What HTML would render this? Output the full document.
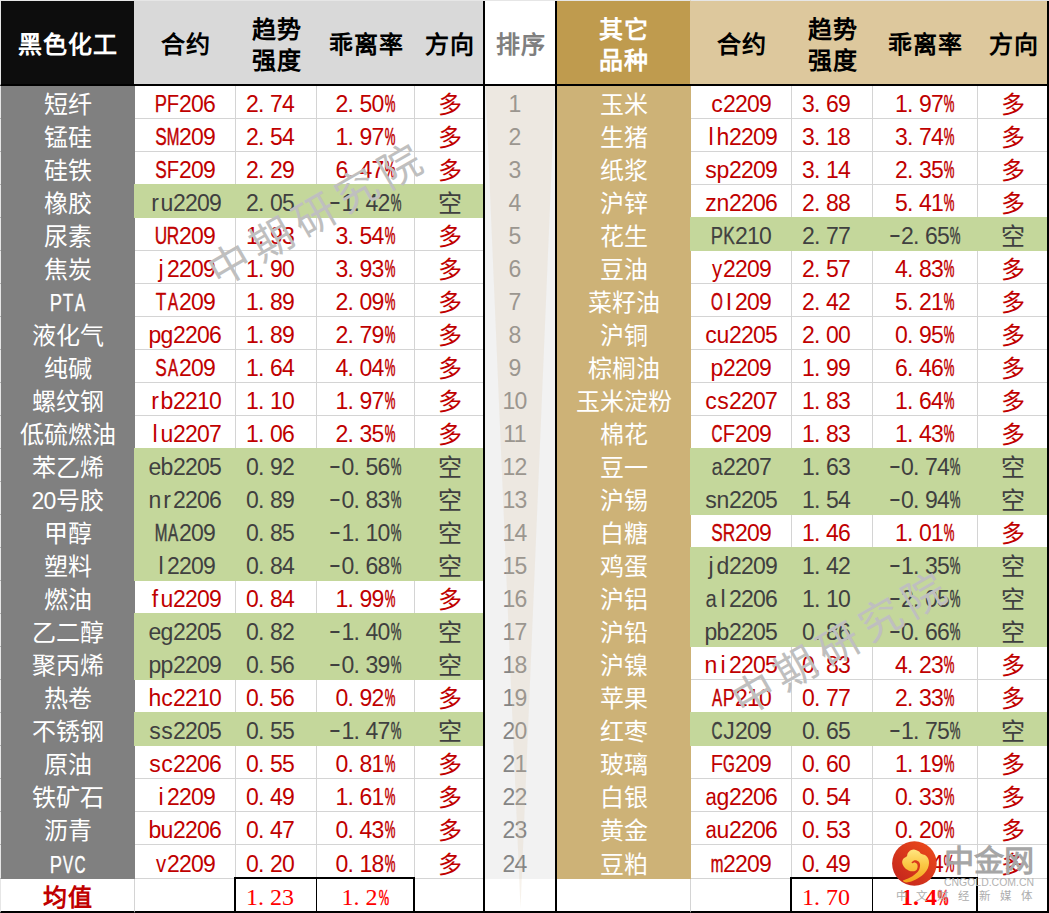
<!DOCTYPE html>
<html lang="zh-CN">
<head>
<meta charset="utf-8">
<title>趋势强度排序</title>
<style>
html,body{margin:0;padding:0;background:#fff;}
body{width:1049px;height:913px;position:relative;overflow:hidden;font-family:"Liberation Sans",sans-serif;}
table{position:absolute;left:0;top:0;width:1049px;border-collapse:separate;border-spacing:0;table-layout:fixed;}
td,th{padding:0;margin:0;text-align:center;white-space:nowrap;overflow:hidden;box-sizing:border-box;font-weight:normal;}
/* header */
thead th{height:86px;font-family:"Liberation Sans",sans-serif;font-weight:bold;font-size:24px;line-height:31px;letter-spacing:1px;color:#000;background:#d9d9d9;padding-top:4px;border-bottom:2px solid #000;border-top:1px solid #e6e6e6;}
thead th.h1{background:#0d0d0d;color:#fff;border-left:1px solid #e6e6e6;border-right:1px solid #d9d9d9;}
thead th.hr{background:#fff;color:#7f7f7f;}
thead th.h2{background:#bf9b4e;color:#fff;border-right:1px solid #ddc89d;}
thead th.t{background:#ddc89d;}
/* body */
tbody td{height:33px;font-size:23px;line-height:28px;letter-spacing:-0.79px;padding-top:4px;border-right:1px solid #d4d4d4;border-bottom:1px solid #d4d4d4;}
tbody td.n1{background:#808080;color:#fff;border-color:#808080;border-left:1px solid #e6e6e6;font-size:24px;letter-spacing:0;padding-top:5px;line-height:27px;}
tbody td.n2{background:#cdb277;color:#fff;border-color:#cdb277;font-size:24px;letter-spacing:0;padding-top:5px;line-height:27px;}
tbody td.rk{background:#f2f2f2;color:#858585;border-color:#f2f2f2;}
tbody td.up{color:#c00000;}
tbody td.dn{color:#404040;background:#c4d79b;border-color:#c4d79b;box-shadow:0 -1px 0 #c4d79b,-1px 0 0 #c4d79b,-1px -1px 0 #c4d79b;position:relative;}
td.ts{padding-right:12px;}
tbody td.d{font-size:24px;letter-spacing:0;padding-top:5px;line-height:27px;}
.a{font-size:23px;letter-spacing:-0.79px;line-height:1;}
u{display:inline-flex;justify-content:center;width:12px;text-decoration:none;letter-spacing:0;line-height:1;}
u.s9{transform:scaleX(.88);}
u.s8{transform:scaleX(.8);-webkit-text-stroke:.25px;}
u.s7{transform:scaleX(.75);-webkit-text-stroke:.35px;}
u.s6{transform:scaleX(.66);-webkit-text-stroke:.5px;}
u.s5{transform:scaleX(.52);-webkit-text-stroke:.6px;}
u.sm{transform:translateY(-2px) scaleX(1.6);}
u.dt{justify-content:flex-start;}
/* mean row */
tfoot td{height:34px;font-family:"Liberation Serif",serif;font-size:24px;line-height:28px;color:#f00;border-right:1px solid #d4d4d4;border-bottom:2px solid #000;padding-top:4px;}
tbody tr:last-child td{height:34px;}
tfoot td.m{font-family:"Liberation Sans",sans-serif;font-weight:bold;color:#c00000;letter-spacing:1px;border-left:1px solid #e6e6e6;padding-top:6px;line-height:26px;}
/* overlays */
.ln{position:absolute;background:#000;}
.tri{position:absolute;left:485px;top:86px;width:71px;height:824px;}
.wm{position:absolute;font-family:"Liberation Sans",sans-serif;font-size:42px;line-height:42px;color:#bfbfbf;font-weight:200;white-space:nowrap;transform:translate(-50%,-50%) rotate(-30deg);letter-spacing:7px;padding-left:7px;}
.logo{position:absolute;left:890px;top:838px;width:159px;height:75px;}
</style>
</head>
<body>
<table>
<colgroup><col style="width:135px"><col style="width:101px"><col style="width:81px"><col style="width:98px"><col style="width:70px"><col style="width:72px"><col style="width:134px"><col style="width:101px"><col style="width:81px"><col style="width:105px"><col style="width:71px"></colgroup>
<thead>
<tr><th class="h1">黑色化工</th><th>合约</th><th>趋势<br>强度</th><th>乖离率</th><th>方向</th><th class="hr">排序</th><th class="h2">其它<br>品种</th><th class="t">合约</th><th class="t">趋势<br>强度</th><th class="t">乖离率</th><th class="t">方向</th></tr>
</thead>
<tbody>
<tr><td class="n1">短纤</td><td class="up"><u class="s8">P</u><u class="s9">F</u>206</td><td class="up ts">2<u class="dt">.</u>74</td><td class="up">2<u class="dt">.</u>50<u class="s5">%</u></td><td class="up d e1">多</td><td class="rk ts">1</td><td class="n2">玉米</td><td class="up"><u>c</u>2209</td><td class="up ts">3<u class="dt">.</u>69</td><td class="up">1<u class="dt">.</u>97<u class="s5">%</u></td><td class="up d e2">多</td></tr>
<tr><td class="n1">锰硅</td><td class="up"><u class="s7">S</u><u class="s6">M</u>209</td><td class="up ts">2<u class="dt">.</u>54</td><td class="up">1<u class="dt">.</u>97<u class="s5">%</u></td><td class="up d e1">多</td><td class="rk ts">2</td><td class="n2">生猪</td><td class="up"><u>l</u><u>h</u>2209</td><td class="up ts">3<u class="dt">.</u>18</td><td class="up">3<u class="dt">.</u>74<u class="s5">%</u></td><td class="up d e2">多</td></tr>
<tr><td class="n1">硅铁</td><td class="up"><u class="s7">S</u><u class="s9">F</u>209</td><td class="up ts">2<u class="dt">.</u>29</td><td class="up">6<u class="dt">.</u>47<u class="s5">%</u></td><td class="up d e1">多</td><td class="rk ts">3</td><td class="n2">纸浆</td><td class="up"><u>s</u><u>p</u>2209</td><td class="up ts">3<u class="dt">.</u>14</td><td class="up">2<u class="dt">.</u>35<u class="s5">%</u></td><td class="up d e2">多</td></tr>
<tr><td class="n1">橡胶</td><td class="dn"><u>r</u><u>u</u>2209</td><td class="dn ts">2<u class="dt">.</u>05</td><td class="dn"><u class="sm">-</u>1<u class="dt">.</u>42<u class="s5">%</u></td><td class="dn d e1">空</td><td class="rk ts">4</td><td class="n2">沪锌</td><td class="up"><u>z</u><u>n</u>2206</td><td class="up ts">2<u class="dt">.</u>88</td><td class="up">5<u class="dt">.</u>41<u class="s5">%</u></td><td class="up d e2">多</td></tr>
<tr><td class="n1">尿素</td><td class="up"><u class="s7">U</u><u class="s7">R</u>209</td><td class="up ts">1<u class="dt">.</u>93</td><td class="up">3<u class="dt">.</u>54<u class="s5">%</u></td><td class="up d e1">多</td><td class="rk ts">5</td><td class="n2">花生</td><td class="dn"><u class="s8">P</u><u class="s7">K</u>210</td><td class="dn ts">2<u class="dt">.</u>77</td><td class="dn"><u class="sm">-</u>2<u class="dt">.</u>65<u class="s5">%</u></td><td class="dn d e2">空</td></tr>
<tr><td class="n1">焦炭</td><td class="up"><u>j</u>2209</td><td class="up ts">1<u class="dt">.</u>90</td><td class="up">3<u class="dt">.</u>93<u class="s5">%</u></td><td class="up d e1">多</td><td class="rk ts">6</td><td class="n2">豆油</td><td class="up"><u class="s9">y</u>2209</td><td class="up ts">2<u class="dt">.</u>57</td><td class="up">4<u class="dt">.</u>83<u class="s5">%</u></td><td class="up d e2">多</td></tr>
<tr><td class="n1"><span class="a"><u class="s8">P</u><u class="s7">T</u><u class="s6">A</u></span></td><td class="up"><u class="s7">T</u><u class="s6">A</u>209</td><td class="up ts">1<u class="dt">.</u>89</td><td class="up">2<u class="dt">.</u>09<u class="s5">%</u></td><td class="up d e1">多</td><td class="rk ts">7</td><td class="n2">菜籽油</td><td class="up"><u class="s6">O</u><u>I</u>209</td><td class="up ts">2<u class="dt">.</u>42</td><td class="up">5<u class="dt">.</u>21<u class="s5">%</u></td><td class="up d e2">多</td></tr>
<tr><td class="n1">液化气</td><td class="up"><u>p</u><u>g</u>2206</td><td class="up ts">1<u class="dt">.</u>89</td><td class="up">2<u class="dt">.</u>79<u class="s5">%</u></td><td class="up d e1">多</td><td class="rk ts">8</td><td class="n2">沪铜</td><td class="up"><u>c</u><u>u</u>2205</td><td class="up ts">2<u class="dt">.</u>00</td><td class="up">0<u class="dt">.</u>95<u class="s5">%</u></td><td class="up d e2">多</td></tr>
<tr><td class="n1">纯碱</td><td class="up"><u class="s7">S</u><u class="s6">A</u>209</td><td class="up ts">1<u class="dt">.</u>64</td><td class="up">4<u class="dt">.</u>04<u class="s5">%</u></td><td class="up d e1">多</td><td class="rk ts">9</td><td class="n2">棕榈油</td><td class="up"><u>p</u>2209</td><td class="up ts">1<u class="dt">.</u>99</td><td class="up">6<u class="dt">.</u>46<u class="s5">%</u></td><td class="up d e2">多</td></tr>
<tr><td class="n1">螺纹钢</td><td class="up"><u>r</u><u>b</u>2210</td><td class="up ts">1<u class="dt">.</u>10</td><td class="up">1<u class="dt">.</u>97<u class="s5">%</u></td><td class="up d e1">多</td><td class="rk ts">10</td><td class="n2">玉米淀粉</td><td class="up"><u>c</u><u>s</u>2207</td><td class="up ts">1<u class="dt">.</u>83</td><td class="up">1<u class="dt">.</u>64<u class="s5">%</u></td><td class="up d e2">多</td></tr>
<tr><td class="n1">低硫燃油</td><td class="up"><u>l</u><u>u</u>2207</td><td class="up ts">1<u class="dt">.</u>06</td><td class="up">2<u class="dt">.</u>35<u class="s5">%</u></td><td class="up d e1">多</td><td class="rk ts">11</td><td class="n2">棉花</td><td class="up"><u class="s6">C</u><u class="s9">F</u>209</td><td class="up ts">1<u class="dt">.</u>83</td><td class="up">1<u class="dt">.</u>43<u class="s5">%</u></td><td class="up d e2">多</td></tr>
<tr><td class="n1">苯乙烯</td><td class="dn"><u>e</u><u>b</u>2205</td><td class="dn ts">0<u class="dt">.</u>92</td><td class="dn"><u class="sm">-</u>0<u class="dt">.</u>56<u class="s5">%</u></td><td class="dn d e1">空</td><td class="rk ts">12</td><td class="n2">豆一</td><td class="dn"><u class="s9">a</u>2207</td><td class="dn ts">1<u class="dt">.</u>63</td><td class="dn"><u class="sm">-</u>0<u class="dt">.</u>74<u class="s5">%</u></td><td class="dn d e2">空</td></tr>
<tr><td class="n1"><span class="a">20</span>号胶</td><td class="dn"><u>n</u><u>r</u>2206</td><td class="dn ts">0<u class="dt">.</u>89</td><td class="dn"><u class="sm">-</u>0<u class="dt">.</u>83<u class="s5">%</u></td><td class="dn d e1">空</td><td class="rk ts">13</td><td class="n2">沪锡</td><td class="dn"><u>s</u><u>n</u>2205</td><td class="dn ts">1<u class="dt">.</u>54</td><td class="dn"><u class="sm">-</u>0<u class="dt">.</u>94<u class="s5">%</u></td><td class="dn d e2">空</td></tr>
<tr><td class="n1">甲醇</td><td class="dn"><u class="s6">M</u><u class="s6">A</u>209</td><td class="dn ts">0<u class="dt">.</u>85</td><td class="dn"><u class="sm">-</u>1<u class="dt">.</u>10<u class="s5">%</u></td><td class="dn d e1">空</td><td class="rk ts">14</td><td class="n2">白糖</td><td class="up"><u class="s7">S</u><u class="s7">R</u>209</td><td class="up ts">1<u class="dt">.</u>46</td><td class="up">1<u class="dt">.</u>01<u class="s5">%</u></td><td class="up d e2">多</td></tr>
<tr><td class="n1">塑料</td><td class="dn"><u>l</u>2209</td><td class="dn ts">0<u class="dt">.</u>84</td><td class="dn"><u class="sm">-</u>0<u class="dt">.</u>68<u class="s5">%</u></td><td class="dn d e1">空</td><td class="rk ts">15</td><td class="n2">鸡蛋</td><td class="dn"><u>j</u><u>d</u>2209</td><td class="dn ts">1<u class="dt">.</u>42</td><td class="dn"><u class="sm">-</u>1<u class="dt">.</u>35<u class="s5">%</u></td><td class="dn d e2">空</td></tr>
<tr><td class="n1">燃油</td><td class="up"><u>f</u><u>u</u>2209</td><td class="up ts">0<u class="dt">.</u>84</td><td class="up">1<u class="dt">.</u>99<u class="s5">%</u></td><td class="up d e1">多</td><td class="rk ts">16</td><td class="n2">沪铝</td><td class="dn"><u class="s9">a</u><u>l</u>2206</td><td class="dn ts">1<u class="dt">.</u>10</td><td class="dn"><u class="sm">-</u>2<u class="dt">.</u>05<u class="s5">%</u></td><td class="dn d e2">空</td></tr>
<tr><td class="n1">乙二醇</td><td class="dn"><u>e</u><u>g</u>2205</td><td class="dn ts">0<u class="dt">.</u>82</td><td class="dn"><u class="sm">-</u>1<u class="dt">.</u>40<u class="s5">%</u></td><td class="dn d e1">空</td><td class="rk ts">17</td><td class="n2">沪铅</td><td class="dn"><u>p</u><u>b</u>2205</td><td class="dn ts">0<u class="dt">.</u>86</td><td class="dn"><u class="sm">-</u>0<u class="dt">.</u>66<u class="s5">%</u></td><td class="dn d e2">空</td></tr>
<tr><td class="n1">聚丙烯</td><td class="dn"><u>p</u><u>p</u>2209</td><td class="dn ts">0<u class="dt">.</u>56</td><td class="dn"><u class="sm">-</u>0<u class="dt">.</u>39<u class="s5">%</u></td><td class="dn d e1">空</td><td class="rk ts">18</td><td class="n2">沪镍</td><td class="up"><u>n</u><u>i</u>2205</td><td class="up ts">0<u class="dt">.</u>83</td><td class="up">4<u class="dt">.</u>23<u class="s5">%</u></td><td class="up d e2">多</td></tr>
<tr><td class="n1">热卷</td><td class="up"><u>h</u><u>c</u>2210</td><td class="up ts">0<u class="dt">.</u>56</td><td class="up">0<u class="dt">.</u>92<u class="s5">%</u></td><td class="up d e1">多</td><td class="rk ts">19</td><td class="n2">苹果</td><td class="up"><u class="s6">A</u><u class="s8">P</u>210</td><td class="up ts">0<u class="dt">.</u>77</td><td class="up">2<u class="dt">.</u>33<u class="s5">%</u></td><td class="up d e2">多</td></tr>
<tr><td class="n1">不锈钢</td><td class="dn"><u>s</u><u>s</u>2205</td><td class="dn ts">0<u class="dt">.</u>55</td><td class="dn"><u class="sm">-</u>1<u class="dt">.</u>47<u class="s5">%</u></td><td class="dn d e1">空</td><td class="rk ts">20</td><td class="n2">红枣</td><td class="dn"><u class="s6">C</u><u>J</u>209</td><td class="dn ts">0<u class="dt">.</u>65</td><td class="dn"><u class="sm">-</u>1<u class="dt">.</u>75<u class="s5">%</u></td><td class="dn d e2">空</td></tr>
<tr><td class="n1">原油</td><td class="up"><u>s</u><u>c</u>2206</td><td class="up ts">0<u class="dt">.</u>55</td><td class="up">0<u class="dt">.</u>81<u class="s5">%</u></td><td class="up d e1">多</td><td class="rk ts">21</td><td class="n2">玻璃</td><td class="up"><u class="s9">F</u><u class="s6">G</u>209</td><td class="up ts">0<u class="dt">.</u>60</td><td class="up">1<u class="dt">.</u>19<u class="s5">%</u></td><td class="up d e2">多</td></tr>
<tr><td class="n1">铁矿石</td><td class="up"><u>i</u>2209</td><td class="up ts">0<u class="dt">.</u>49</td><td class="up">1<u class="dt">.</u>61<u class="s5">%</u></td><td class="up d e1">多</td><td class="rk ts">22</td><td class="n2">白银</td><td class="up"><u class="s9">a</u><u>g</u>2206</td><td class="up ts">0<u class="dt">.</u>54</td><td class="up">0<u class="dt">.</u>33<u class="s5">%</u></td><td class="up d e2">多</td></tr>
<tr><td class="n1">沥青</td><td class="up"><u>b</u><u>u</u>2206</td><td class="up ts">0<u class="dt">.</u>47</td><td class="up">0<u class="dt">.</u>43<u class="s5">%</u></td><td class="up d e1">多</td><td class="rk ts">23</td><td class="n2">黄金</td><td class="up"><u class="s9">a</u><u>u</u>2206</td><td class="up ts">0<u class="dt">.</u>53</td><td class="up">0<u class="dt">.</u>20<u class="s5">%</u></td><td class="up d e2">多</td></tr>
<tr><td class="n1"><span class="a"><u class="s8">P</u><u class="s6">V</u><u class="s6">C</u></span></td><td class="up"><u class="s9">v</u>2209</td><td class="up ts">0<u class="dt">.</u>20</td><td class="up">0<u class="dt">.</u>18<u class="s5">%</u></td><td class="up d e1">多</td><td class="rk ts">24</td><td class="n2">豆粕</td><td class="up"><u class="s6">m</u>2209</td><td class="up ts">0<u class="dt">.</u>49</td><td class="up">0<u class="dt">.</u>14<u class="s5">%</u></td><td class="up d e2">多</td></tr>
</tbody>
<tfoot>
<tr><td class="m">均值</td><td></td><td class="ts">1<u class="dt">.</u>23</td><td>1<u class="dt">.</u>2<u class="s5">%</u></td><td></td><td></td><td></td><td></td><td class="ts">1<u class="dt">.</u>70</td><td><b>1<u class="dt">.</u>4<u class="s5">%</u></b></td><td></td></tr>
</tfoot>
</table>
<svg class="tri" viewBox="0 0 71 824"><polygon points="0.5,0 70,0 35.5,822" fill="#decaae" fill-opacity="0.25"/></svg>
<!-- thick black rules -->
<div class="ln" style="left:1px;top:84px;width:1048px;height:2px"></div>
<div class="ln" style="left:483px;top:1px;width:2px;height:912px"></div>
<div class="ln" style="left:555px;top:1px;width:2px;height:912px"></div>
<div class="ln" style="left:1047px;top:1px;width:2px;height:912px"></div>
<div class="ln" style="left:234px;top:877px;width:2px;height:36px"></div>
<div class="ln" style="left:316px;top:877px;width:1px;height:36px"></div>
<div class="ln" style="left:413px;top:877px;width:2px;height:36px"></div>
<div class="ln" style="left:234px;top:877px;width:181px;height:2px"></div>
<div class="ln" style="left:790px;top:877px;width:2px;height:36px"></div>
<div class="ln" style="left:872px;top:877px;width:1px;height:36px"></div>
<div class="ln" style="left:976px;top:877px;width:2px;height:36px"></div>
<div class="ln" style="left:790px;top:877px;width:188px;height:2px"></div>
<div class="wm" style="left:314.500px;top:215.500px">中期研究院</div>
<div class="wm" style="left:839px;top:644.500px">中期研究院</div>
<svg class="logo" viewBox="0 0 159 75">
<defs><linearGradient id="g" x1="0.85" y1="0.1" x2="0.15" y2="0.9"><stop offset="0" stop-color="#e9481b"/><stop offset="1" stop-color="#c6271c"/></linearGradient>
<linearGradient id="y" x1="0" y1="0" x2="0" y2="1"><stop offset="0" stop-color="#ffe680"/><stop offset="0.45" stop-color="#fbc846"/><stop offset="1" stop-color="#f4a21a"/></linearGradient></defs>
<circle cx="24.4" cy="25.5" r="22.3" fill="url(#g)"/>
<path d="M12.24 25.06C12.00 23.64 12.34 22.21 13.09 21.08C13.85 19.94 16.04 19.18 16.80 18.23C17.56 17.28 16.99 16.38 17.65 15.38C18.32 14.38 19.60 12.86 20.78 12.25C21.97 11.63 23.39 11.49 24.77 11.68C26.15 11.87 28.00 12.72 29.04 13.39C30.09 14.05 30.04 15.05 31.04 15.66C32.03 16.28 33.84 16.28 35.02 17.09C36.21 17.90 37.49 19.18 38.16 20.51C38.82 21.83 39.06 23.45 39.01 25.06C38.96 26.68 38.63 28.48 37.87 30.19C37.11 31.90 35.97 33.70 34.45 35.32C32.94 36.93 30.85 38.54 28.76 39.87C26.67 41.20 24.01 42.53 21.92 43.29C19.83 44.05 17.73 44.52 16.23 44.43C14.73 44.33 12.83 43.29 12.92 42.72C13.02 42.15 15.20 41.77 16.80 41.01C18.39 40.25 20.78 39.26 22.49 38.16C24.20 37.07 26.05 35.36 27.05 34.46C28.05 33.56 28.05 33.46 28.47 32.75C28.90 32.04 29.36 31.28 29.61 30.19C29.87 29.10 30.25 27.36 30.01 26.20C29.77 25.04 29.06 23.90 28.19 23.24C27.32 22.58 25.86 22.05 24.77 22.21C23.68 22.38 22.00 23.71 21.64 24.21C21.28 24.70 22.08 25.15 22.61 25.18C23.13 25.21 24.05 24.28 24.77 24.38C25.49 24.47 26.46 25.06 26.94 25.75C27.41 26.43 27.70 27.44 27.62 28.48C27.54 29.52 27.24 31.20 26.48 32.01C25.72 32.82 24.39 33.25 23.06 33.32C21.73 33.40 19.93 33.08 18.51 32.47C17.08 31.85 15.56 30.85 14.52 29.62C13.47 28.39 12.48 26.49 12.24 25.06Z" fill="url(#y)"/>
<text x="54" y="33" font-family="Liberation Sans,sans-serif" font-weight="bold" font-size="30" fill="#a6a6a6" textLength="90.500" lengthAdjust="spacingAndGlyphs">中金网</text>
<text x="54" y="47.500" font-family="Liberation Sans,sans-serif" font-size="10" fill="#b2b2b2" textLength="90" lengthAdjust="spacingAndGlyphs">CNGOLD.COM.CN</text>
<text x="5.500" y="62" font-family="Liberation Sans,sans-serif" font-size="11.500" fill="#adadad" textLength="136" lengthAdjust="spacing">中文财经新媒体</text>
</svg>
</body>
</html>
